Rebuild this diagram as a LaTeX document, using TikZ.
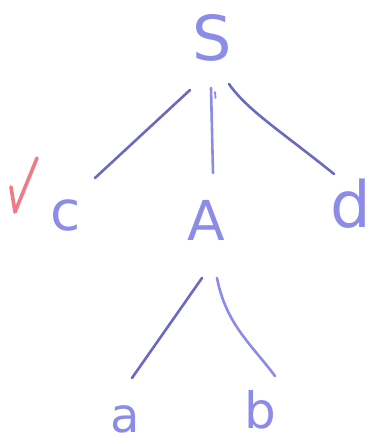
\documentclass[tikz,border=0pt]{standalone}
\usepackage{fontspec}
\setmainfont{DejaVu Sans}
\usetikzlibrary{calc}
\definecolor{symc}{HTML}{8C8CE8}
\definecolor{linec}{HTML}{7878D2}
\definecolor{darkl}{HTML}{6A6AC0}
\definecolor{checkc}{HTML}{F07A86}
\begin{document}
\begin{tikzpicture}[x=1pt,y=-1pt,
  sym/.style={text=symc, inner sep=0pt, font=\fontsize{#1}{#1}\selectfont},
  edge/.style={draw=linec, line width=2.6pt, line cap=round, line join=round}]
\useasboundingbox (0,0) rectangle (371,444);
\node[sym=62] (S) at (212,38) {S};
\node[sym=55] (c) at (66,215) {c};
\node[sym=55] (A) at (206,220) {A};
\node[sym=64] (d) at (351,204) {d};
\node[sym=48] (a) at (125,419) {a};
\node[sym=50] (b) at (260,410) {b};
% edges
\draw[edge, draw=darkl] ($(S)+(-22,52)$) -- ($(c)+(29,-37)$);
\draw[edge, draw=symc] ($(S)+(-1,50)$) -- ($(A)+(7,-47)$);
\draw[edge, draw=symc, line width=1.8pt] ($(S)+(3,54)$) -- ($(S)+(3.5,60)$);
\draw[edge, draw=darkl] ($(S)+(17,46)$) .. controls ($(S)+(35,72)$) and ($(S)+(70,94)$) .. ($(d)+(-17,-30)$);
\draw[edge, draw=darkl] ($(A)+(-4,58)$) -- ($(a)+(7,-41)$);
\draw[edge, draw=symc] ($(A)+(11,58)$) .. controls ($(A)+(20,104)$) and ($(A)+(45,124)$) .. ($(b)+(15,-34)$);
% check mark
\draw[draw=checkc, line width=3.6pt, line cap=round, line join=round] (11,187) -- (15,212) -- (37,158);
\end{tikzpicture}
\end{document}
